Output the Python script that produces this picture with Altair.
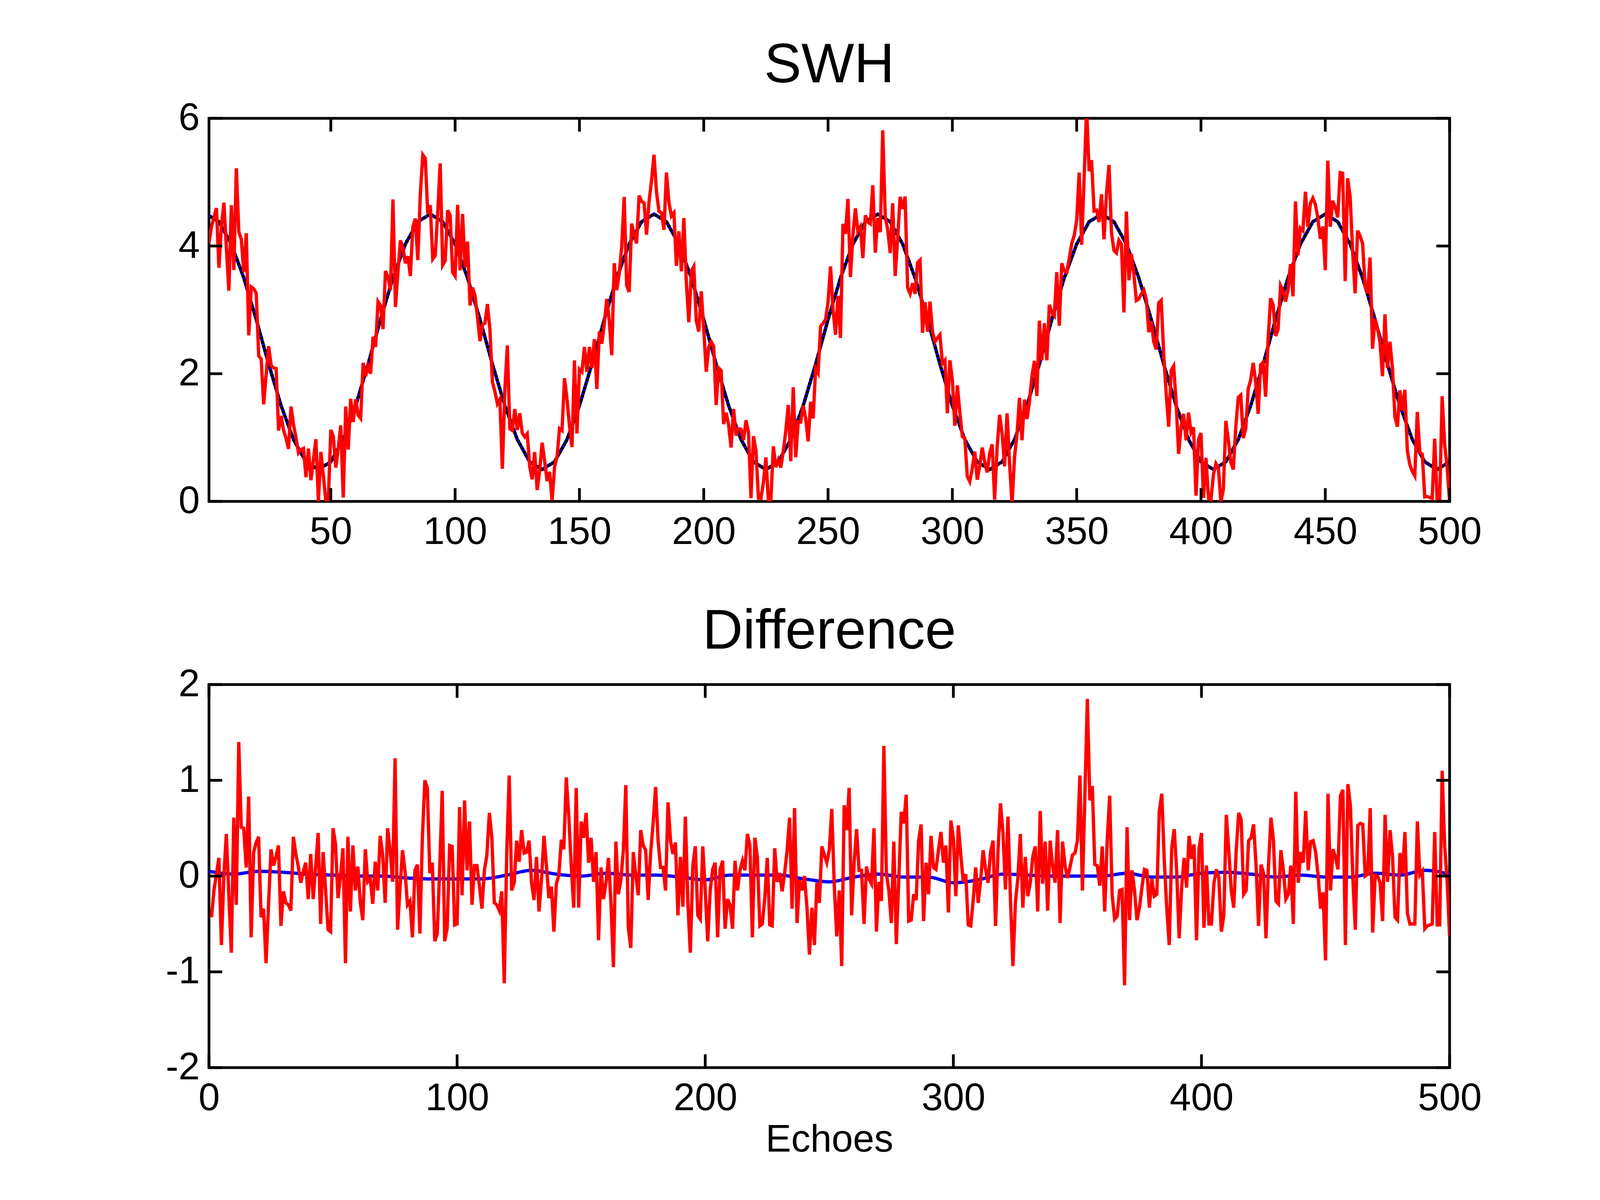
import altair as alt
import pandas as pd
import numpy as np

# ---------------- data ----------------
# true SWH (smooth curve), every 5 echoes from 0 to 500
true_x = list(range(0, 501, 5))
true_swh = [
    4.5, 4.38, 4.03, 3.5, 2.85, 2.15, 1.5, 0.97, 0.62, 0.5, 0.62, 0.97, 1.5, 2.15, 2.85, 3.5, 4.03, 4.38,
    4.5, 4.38, 4.03, 3.5, 2.85, 2.15, 1.5, 0.97, 0.62, 0.5, 0.62, 0.97, 1.5, 2.15, 2.85, 3.5, 4.03, 4.38,
    4.5, 4.38, 4.03, 3.5, 2.85, 2.15, 1.5, 0.97, 0.62, 0.5, 0.62, 0.97, 1.5, 2.15, 2.85, 3.5, 4.03, 4.38,
    4.5, 4.38, 4.03, 3.5, 2.85, 2.15, 1.5, 0.97, 0.62, 0.5, 0.62, 0.97, 1.5, 2.15, 2.85, 3.5, 4.03, 4.38,
    4.5, 4.38, 4.03, 3.5, 2.85, 2.15, 1.5, 0.97, 0.62, 0.5, 0.62, 0.97, 1.5, 2.15, 2.85, 3.5, 4.03, 4.38,
    4.5, 4.38, 4.03, 3.5, 2.85, 2.15, 1.5, 0.97, 0.62, 0.5, 0.62,
]

# difference (estimated - true), one value per echo 1..500
difference = [
    -0.43, -0.15, 0.02, 0.19, -0.72, 0.0, 0.44, -0.2, -0.8, 0.61,
    -0.3, 1.40, 0.51, 0.5, 0.09, 0.83, -0.64, 0.25, 0.35, 0.41,
    -0.43, -0.34, -0.91, -0.3, 0.28, 0.11, 0.2, 0.32, -0.52, -0.16,
    -0.28, -0.3, -0.36, 0.41, 0.23, 0.1, -0.07, 0.05, 0.14, -0.24,
    0.23, -0.24, 0.1, 0.45, -0.5, 0.25, -0.15, -0.56, -0.58, 0.5,
    0.33, -0.23, 0.0, 0.29, -0.91, 0.41, -0.37, 0.32, -0.15, 0.1,
    -0.28, -0.46, 0.28, -0.06, -0.03, -0.29, 0.15, -0.15, 0.42, 0.22,
    -0.28, 0.5, 0.27, -0.06, 1.23, -0.56, -0.12, 0.27, 0.05, -0.3,
    -0.26, -0.64, 0.06, 0.12, -0.6, 0.4, 1.0, 0.92, 0.03, 0.14,
    -0.68, -0.6, 0.1, 0.89, -0.68, -0.54, 0.32, 0.31, -0.51, -0.5,
    0.72, -0.2, 0.79, 0.06, 0.57, -0.30, 0.11, 0.11, -0.1, -0.34,
    0.06, 0.22, 0.66, 0.40, -0.28, -0.30, -0.36, -0.16, -1.12, 0.24,
    1.05, -0.15, -0.07, 0.37, 0.15, 0.48, 0.24, 0.25, 0.37, -0.07,
    -0.25, 0.20, -0.37, -0.04, 0.42, 0.11, -0.23, -0.11, -0.58, -0.08,
    0.01, 0.38, 0.28, 1.03, 0.63, 0.11, -0.33, 0.92, -0.33, 0.57,
    0.40, 0.66, 0.14, 0.40, -0.06, 0.25, -0.67, 0.09, -0.24, -0.07,
    0.19, -0.28, -0.95, 0.36, -0.19, -0.04, 0.27, 0.95, -0.54, -0.75,
    0.25, 0.01, -0.20, 0.48, 0.32, 0.27, -0.25, 0.24, 0.55, 0.93,
    0.37, 0.09, 0.09, -0.15, 0.77, 0.37, 0.23, 0.35, -0.41, 0.20,
    -0.32, 0.62, -0.28, -0.80, 0.11, 0.31, -0.41, -0.45, 0.31, -0.15,
    -0.68, -0.15, 0.07, 0.14, -0.64, 0.07, 0.16, -0.55, -0.24, -0.30,
    -0.55, 0.16, -0.15, 0.06, 0.16, 0.06, 0.44, 0.32, -0.64, 0.40,
    0.20, -0.52, -0.50, -0.23, 0.19, -0.51, -0.52, 0.29, -0.06, 0.03,
    -0.16, 0.03, 0.27, 0.61, -0.34, 0.71, -0.49, -0.04, -0.15, 0.0,
    -0.33, -0.82, -0.33, -0.72, -0.07, -0.28, 0.31, 0.22, 0.14, 0.27,
    0.70, -0.10, -0.63, -0.15, -0.94, 0.74, 0.48, 0.92, -0.41, 0.14,
    0.49, 0.06, 0.06, -0.50, 0.10, -0.03, -0.08, 0.50, -0.58, -0.06,
    -0.26, 1.36, 0.03, -0.15, -0.49, 0.36, -0.71, -0.04, 0.67, 0.55,
    0.85, -0.47, -0.46, -0.19, -0.25, 0.37, 0.54, -0.47, 0.14, -0.19,
    0.42, 0.09, 0.07, 0.27, 0.46, 0.14, 0.32, -0.38, 0.58, 0.40,
    -0.21, 0.53, 0.22, -0.06, 0.02, -0.51, -0.52, -0.25, 0.09, -0.28,
    -0.04, 0.27, 0.07, -0.07, 0.25, 0.37, -0.52, 0.27, 0.76, 0.45,
    -0.14, 0.62, -0.23, -0.94, -0.28, -0.02, 0.44, -0.33, 0.20, -0.21,
    -0.07, 0.20, 0.31, -0.37, 0.68, -0.08, 0.36, -0.36, 0.37, 0.11,
    -0.07, 0.48, -0.49, 0.36, 0.11, -0.02, 0.09, 0.22, 0.24, 0.37,
    1.05, -0.15, 0.84, 1.85, 0.79, 0.94, 0.12, 0.11, -0.10, 0.31,
    -0.37, 0.37, 0.84, -0.20, -0.45, -0.42, -0.15, -0.14, -1.14, 0.51,
    -0.46, 0.06, -0.15, -0.46, -0.33, -0.12, 0.07, 0.06, -0.33, -0.03,
    -0.21, -0.19, 0.68, 0.86, 0.16, -0.33, -0.72, 0.29, 0.49, 0.06,
    -0.65, -0.12, 0.19, -0.12, 0.42, 0.18, 0.33, -0.67, 0.28, 0.45,
    -0.54, 0.11, -0.50, -0.50, -0.08, 0.07, -0.02, -0.58, -0.41, 0.64,
    0.27, -0.15, -0.33, 0.27, 0.66, 0.59, -0.19, -0.15, 0.37, 0.40,
    0.54, 0.11, -0.52, 0.12, 0.03, -0.65, 0.11, 0.61, 0.37, -0.26,
    -0.29, 0.27, 0.06, -0.24, -0.19, 0.11, -0.50, 0.88, -0.07, 0.25,
    0.14, 0.68, 0.06, 0.36, 0.37, 0.25, 0.01, -0.34, -0.17, -0.88,
    0.86, -0.15, 0.28, 0.2, 0.07, 0.84, 0.90, -0.72, 0.96, 0.74,
    -0.02, -0.56, 0.53, 0.55, 0.54, 0.0, 0.02, 0.71, -0.59, 0.01,
    0.0, -0.07, -0.47, 0.64, -0.06, 0.48, 0.20, -0.43, -0.46, 0.24,
    0.03, 0.46, -0.39, -0.50, -0.50, -0.50, 0.57, 0.01, 0.05, -0.55,
    -0.52, -0.51, -0.50, 0.46, -0.51, -0.51, 1.10, 0.32, -0.05, -0.63,
]
diff_x = list(range(1, len(difference) + 1))

# smoothed difference (blue), every 10 echoes from 0 to 500
smooth_x = list(range(0, 501, 10))
smooth_diff = [
    0.05, 0.02, 0.05, 0.04, 0.02, 0.01, 0.0, 0.0, -0.02, -0.03,
    -0.03, -0.03, 0.01, 0.06, 0.02, 0.0, 0.03, 0.01, 0.01, -0.01,
    -0.04, 0.01, 0.01, 0.01, -0.03, -0.06, -0.01, 0.02, -0.01, -0.01,
    -0.07, -0.04, 0.02, 0.01, 0.0, 0.0, 0.0, 0.03, -0.01, -0.01,
    0.03, 0.04, 0.02, -0.01, 0.01, -0.01, -0.01, 0.03, 0.01, 0.06,
    0.02,
]

top_xticks = [50, 100, 150, 200, 250, 300, 350, 400, 450, 500]
top_yticks = [0, 2, 4, 6]
bot_xticks = [0, 100, 200, 300, 400, 500]
bot_yticks = [-2, -1, 0, 1, 2]

# ---------------- tables ----------------
true_df = pd.DataFrame({"x": true_x, "y": true_swh})
est_df = pd.DataFrame({
    "x": diff_x,
    "y": np.interp(diff_x, true_x, true_swh) + np.array(difference),
})
diff_df = pd.DataFrame({"x": diff_x, "y": difference})
smooth_df = pd.DataFrame({"x": smooth_x, "y": smooth_diff})

W, H = 3176, 981
TL = 34      # inward tick length
LW = 8.5     # data line width
FONT = "Liberation Sans"

label_expr = "datum.value < 0 ? '-' + abs(datum.value) : '' + datum.value"


def panel(layers_data, xscale, yscale, xticks, yticks, xtitle, title):
    xaxis = alt.Axis(values=xticks, labelFlush=False, labelOverlap=False)
    yaxis = alt.Axis(values=yticks, labelOverlap=False, labelExpr=label_expr)
    X = lambda f: alt.X(f, scale=xscale, axis=xaxis, title=xtitle)
    Y = lambda f: alt.Y(f, scale=yscale, axis=yaxis, title=None)

    layers = []
    for df, style in layers_data:
        layers.append(alt.Chart(df).mark_line(clip=True, **style).encode(x=X("x:Q"), y=Y("y:Q")))

    xdf = pd.DataFrame({"t": xticks})
    ydf = pd.DataFrame({"t": yticks})
    rule = dict(color="black", strokeWidth=7)
    layers += [
        alt.Chart(xdf).mark_rule(**rule).encode(x=X("t:Q"), y=alt.value(H), y2=alt.value(H - TL)),
        alt.Chart(xdf).mark_rule(**rule).encode(x=X("t:Q"), y=alt.value(0), y2=alt.value(TL)),
        alt.Chart(ydf).mark_rule(**rule).encode(y=Y("t:Q"), x=alt.value(0), x2=alt.value(TL)),
        alt.Chart(ydf).mark_rule(**rule).encode(y=Y("t:Q"), x=alt.value(W), x2=alt.value(W - TL)),
    ]
    return alt.layer(*layers).properties(width=W, height=H, title=alt.TitleParams(title))


top = panel(
    [
        (true_df, dict(color="#0000ff", strokeWidth=LW)),
        (true_df, dict(color="black", strokeWidth=LW, strokeDash=[8, 3])),
        (est_df, dict(color="#ff0000", strokeWidth=LW)),
    ],
    alt.Scale(domain=[1, 500], nice=False, zero=False),
    alt.Scale(domain=[0, 6], nice=False),
    top_xticks, top_yticks, None, "SWH",
)

bottom = panel(
    [
        (smooth_df, dict(color="#0000ff", strokeWidth=LW, interpolate="monotone")),
        (diff_df, dict(color="#ff0000", strokeWidth=LW)),
    ],
    alt.Scale(domain=[0, 500], nice=False, zero=False),
    alt.Scale(domain=[-2, 2], nice=False),
    bot_xticks, bot_yticks, "Echoes", "Difference",
)

chart = alt.vconcat(top, bottom, spacing=127).properties(
    padding={"left": 412, "top": 85, "right": 20, "bottom": 20},
    background="white",
).configure_view(
    stroke="black", strokeWidth=7,
).configure_axis(
    domain=False, ticks=False, tickSize=0, grid=False,
    labelFont=FONT, labelFontSize=98, labelColor="black",
    titleFont=FONT, titleFontSize=98, titleFontWeight="normal", titleColor="black",
).configure_axisX(
    labelPadding=31, titlePadding=9,
).configure_axisY(
    labelPadding=24,
).configure_title(
    font=FONT, fontSize=143, fontWeight="normal", color="black", anchor="middle", offset=13,
)

chart.save("out.html", embed_options={"renderer": "svg", "actions": False})
